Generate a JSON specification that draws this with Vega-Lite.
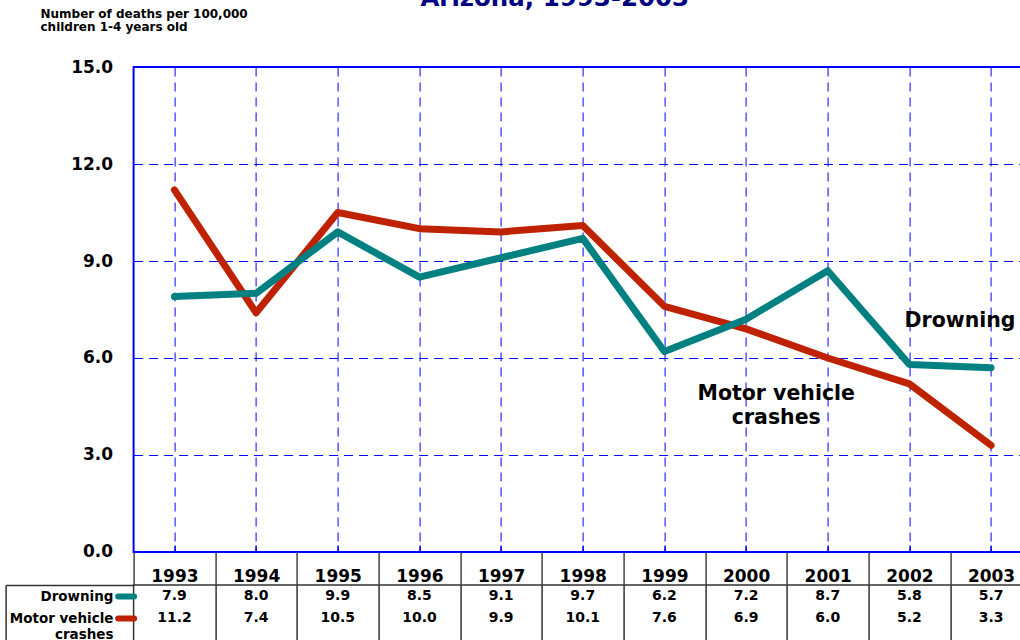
{
  "$schema": "https://vega.github.io/schema/vega-lite/v6.json",
  "padding": {"left": 3.6, "top": -15, "right": -13, "bottom": -5},
  "background": "white",
  "config": {
    "font": "DejaVu Sans",
    "view": {"stroke": null},
    "axis": {"labelFlush": false, "labelOverlap": false, "labelBound": false}
  },
  "datasets": {
    "rates": [
      {"year": 1993, "series": "Drowning", "value": 7.9},
      {"year": 1994, "series": "Drowning", "value": 8.0},
      {"year": 1995, "series": "Drowning", "value": 9.9},
      {"year": 1996, "series": "Drowning", "value": 8.5},
      {"year": 1997, "series": "Drowning", "value": 9.1},
      {"year": 1998, "series": "Drowning", "value": 9.7},
      {"year": 1999, "series": "Drowning", "value": 6.2},
      {"year": 2000, "series": "Drowning", "value": 7.2},
      {"year": 2001, "series": "Drowning", "value": 8.7},
      {"year": 2002, "series": "Drowning", "value": 5.8},
      {"year": 2003, "series": "Drowning", "value": 5.7},
      {"year": 1993, "series": "Motor vehicle crashes", "value": 11.2},
      {"year": 1994, "series": "Motor vehicle crashes", "value": 7.4},
      {"year": 1995, "series": "Motor vehicle crashes", "value": 10.5},
      {"year": 1996, "series": "Motor vehicle crashes", "value": 10.0},
      {"year": 1997, "series": "Motor vehicle crashes", "value": 9.9},
      {"year": 1998, "series": "Motor vehicle crashes", "value": 10.1},
      {"year": 1999, "series": "Motor vehicle crashes", "value": 7.6},
      {"year": 2000, "series": "Motor vehicle crashes", "value": 6.9},
      {"year": 2001, "series": "Motor vehicle crashes", "value": 6.0},
      {"year": 2002, "series": "Motor vehicle crashes", "value": 5.2},
      {"year": 2003, "series": "Motor vehicle crashes", "value": 3.3}
    ],
    "notes": [
      {"label": "Drowning", "year": 2002.62, "value": 7.13},
      {"label": "Motor vehicle\ncrashes", "year": 2000.37, "value": 4.88}
    ]
  },
  "spacing": 33,
  "bounds": "flush",
  "vconcat": [
    {
      "width": 898.3,
      "height": 485,
      "view": {"stroke": "#0000FF", "strokeWidth": 2},
      "title": {
        "text": "Arizona, 1993-2003",
        "font": "DejaVu Sans",
        "fontSize": 24.5,
        "fontWeight": "bold",
        "color": "#000080",
        "anchor": "middle",
        "baseline": "alphabetic",
        "dx": -28,
        "offset": -23
      },
      "data": {"name": "rates"},
      "encoding": {
        "y": {
          "field": "value",
          "type": "quantitative",
          "scale": {"domain": [0, 15], "nice": false},
          "axis": {
            "values": [0, 3, 6, 9, 12, 15],
            "format": ".1f",
            "grid": true,
            "gridColor": "#0000FF",
            "gridDash": [9, 6],
            "gridWidth": 1,
            "ticks": false,
            "domain": false,
            "labelFontSize": 17,
            "labelFontWeight": "bold",
            "labelColor": "black",
            "labelPadding": 21,
            "title": ["Number of deaths per 100,000", "children 1-4 years old"],
            "titleAngle": 0,
            "titleAlign": "left",
            "titleBaseline": "top",
            "titleX": -93.6,
            "titleY": -58.5,
            "titleFontSize": 12,
            "titleFontWeight": "bold",
            "titleColor": "black",
            "titleLineHeight": 13.4
          }
        }
      },
      "layer": [
        {
          "transform": [{"filter": "datum.series === 'Motor vehicle crashes'"}],
          "mark": {"type": "line", "color": "#BF2200", "strokeWidth": 7, "strokeCap": "round", "strokeJoin": "round"},
          "encoding": {
            "x": {
              "field": "year",
              "type": "quantitative",
              "scale": {"domain": [1992.5, 2003.5], "nice": false, "zero": false},
              "axis": {
                "orient": "bottom",
                "values": [1992.5, 1993.5, 1994.5, 1995.5, 1996.5, 1997.5, 1998.5, 1999.5, 2000.5, 2001.5, 2002.5, 2003.5],
                "labels": false,
                "grid": false,
                "domain": false,
                "ticks": true,
                "tickSize": 33,
                "tickColor": "#444444",
                "tickWidth": 1.5,
                "title": null
              }
            }
          }
        },
        {
          "transform": [{"filter": "datum.series === 'Drowning'"}],
          "mark": {"type": "line", "color": "#008080", "strokeWidth": 7, "strokeCap": "round", "strokeJoin": "round"},
          "encoding": {
            "x": {
              "field": "year",
              "type": "quantitative",
              "scale": {"domain": [1992.5, 2003.5], "nice": false, "zero": false},
              "axis": {
                "orient": "bottom",
                "values": [1993, 1994, 1995, 1996, 1997, 1998, 1999, 2000, 2001, 2002, 2003],
                "format": "d",
                "grid": true,
                "gridColor": "#0000FF",
                "gridDash": [9, 6],
                "gridWidth": 1,
                "ticks": true,
                "tickSize": -7,
                "tickColor": "#0000FF",
                "tickWidth": 1.5,
                "domain": false,
                "labelFontSize": 17,
                "labelFontWeight": "bold",
                "labelColor": "black",
                "labelPadding": 24,
                "title": null
              }
            }
          }
        },
        {
          "data": {"name": "notes"},
          "mark": {"type": "text", "fontSize": 20.5, "fontWeight": "bold", "color": "black", "align": "center", "baseline": "middle", "lineBreak": "\n", "lineHeight": 23.5},
          "encoding": {
            "x": {"field": "year", "type": "quantitative", "scale": {"domain": [1992.5, 2003.5], "nice": false, "zero": false}, "axis": null},
            "text": {"field": "label", "type": "nominal"}
          }
        }
      ],
      "resolve": {"axis": {"x": "independent"}}
    },
    {
      "width": 898.3,
      "height": 66,
      "view": {"stroke": "#333333", "strokeWidth": 1.5},
      "data": {"name": "rates"},
      "encoding": {
        "x": {
          "field": "year",
          "type": "quantitative",
          "scale": {"domain": [1992.5, 2003.5], "nice": false, "zero": false},
          "axis": {
            "orient": "bottom",
            "values": [1993.5, 1994.5, 1995.5, 1996.5, 1997.5, 1998.5, 1999.5, 2000.5, 2001.5, 2002.5],
            "grid": true,
            "gridColor": "#333333",
            "gridWidth": 1.5,
            "ticks": false,
            "labels": false,
            "domain": false,
            "title": null
          }
        },
        "text": {"field": "value", "type": "quantitative", "format": ".1f"}
      },
      "layer": [
        {
          "transform": [{"filter": "datum.series === 'Drowning'"}],
          "mark": {"type": "text", "fontSize": 14, "fontWeight": "bold", "color": "black", "align": "center", "baseline": "middle"},
          "encoding": {
            "y": {
              "field": "series",
              "type": "nominal",
              "scale": {"type": "band", "domain": ["Drowning", "Motor vehicle crashes"], "paddingInner": 0, "paddingOuter": 0.5, "align": 0},
              "axis": {
                "orient": "left",
                "title": null,
                "domain": false,
                "ticks": true,
                "tickSize": 16,
                "tickWidth": 6,
                "tickCap": "round",
                "tickColor": {"condition": {"test": "datum.value === 'Drowning'", "value": "#008080"}, "value": "#BF2200"},
                "labelExpr": "datum.value === 'Motor vehicle crashes' ? ['Motor vehicle', 'crashes'] : datum.value",
                "labelFontSize": 13.5,
                "labelFontWeight": "bold",
                "labelColor": "black",
                "labelPadding": 4.6,
                "labelBaseline": "alphabetic",
                "labelOffset": 4.9,
                "labelLineHeight": 16.5
              }
            }
          }
        },
        {
          "transform": [{"filter": "datum.series !== 'Drowning'"}],
          "mark": {"type": "text", "fontSize": 14, "fontWeight": "bold", "color": "black", "align": "center", "baseline": "middle"},
          "encoding": {
            "y": {
              "field": "series",
              "type": "nominal",
              "scale": {"type": "band", "domain": ["Drowning", "Motor vehicle crashes"], "paddingInner": 0, "paddingOuter": 0.5, "align": 0},
              "axis": {
                "orient": "left",
                "title": null,
                "offset": 128,
                "domain": true,
                "domainColor": "#333333",
                "domainWidth": 1.5,
                "ticks": true,
                "bandPosition": 0,
                "tickSize": -128,
                "tickWidth": 1.5,
                "tickColor": {"condition": {"test": "datum.value === 'Drowning'", "value": "#333333"}, "value": "transparent"},
                "labels": false,
                "grid": false
              }
            }
          }
        }
      ],
      "resolve": {"axis": {"y": "independent"}}
    }
  ]
}
